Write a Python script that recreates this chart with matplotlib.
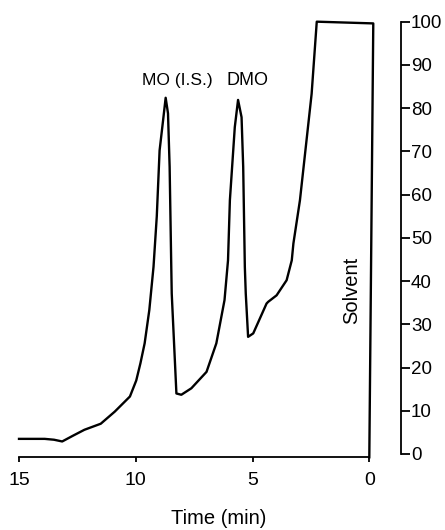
import numpy as np
import matplotlib
matplotlib.use('Agg')
import matplotlib.pyplot as plt

plt.rcParams['font.family'] = ['Liberation Sans', 'DejaVu Sans']

# chromatogram trace (time in min, response %)
time_min = [15.0, 13.9, 13.5, 13.15, 12.7, 12.2, 11.5, 10.9, 10.25, 9.98,
            9.8, 9.62, 9.42, 9.24, 9.1, 8.98, 8.83, 8.72, 8.62, 8.55,
            8.48, 8.46, 8.26, 8.05, 7.62, 6.97, 6.55, 6.2, 6.05, 5.97,
            5.76, 5.62, 5.47, 5.4, 5.33, 5.29, 5.19, 4.97, 4.4, 4.33,
            3.97, 3.54, 3.32, 3.25, 2.97, 2.47, 2.25, -0.17, 0.0]
response = [3.5, 3.5, 3.3, 2.9, 4.2, 5.6, 7.0, 9.8, 13.3, 17.0,
            21.0, 25.6, 33.3, 43.3, 55.0, 70.2, 77.2, 82.4, 78.8, 66.4,
            43.3, 37.1, 14.0, 13.7, 15.2, 19.0, 25.6, 35.6, 44.8, 58.7,
            75.6, 81.9, 77.9, 66.4, 43.3, 37.1, 27.1, 27.9, 34.8, 35.2,
            36.7, 40.2, 44.8, 48.7, 58.7, 83.3, 100.0, 99.6, -0.76]

x_ticks = [15, 10, 5, 0]
y_ticks = [0, 10, 20, 30, 40, 50, 60, 70, 80, 90, 100]

fig = plt.figure(figsize=(4.45, 5.30), dpi=100)
ax = fig.add_axes([0.0427, 0.1372, 0.7872, 0.8219])

ax.plot(time_min, response, color='black', lw=1.7, clip_on=False,
        solid_joinstyle='round')

ax.set_xlim(15, 0)
ax.set_ylim(-0.76, 100)

for s in ['top', 'left']:
    ax.spines[s].set_visible(False)
ax.spines['bottom'].set_linewidth(1.3)
ax.spines['right'].set_linewidth(1.3)
ax.spines['right'].set_position(('outward', 22.6))
ax.spines['right'].set_bounds(0, 100)

ax.set_xticks(x_ticks)
ax.set_xticklabels([str(v) for v in x_ticks])
ax.yaxis.tick_right()
ax.set_yticks(y_ticks)
ax.set_yticklabels([str(v) for v in y_ticks])

ax.tick_params(axis='x', direction='out', length=3.5, width=1.3, pad=7,
               labelsize=14)
ax.tick_params(axis='y', direction='out', length=6.5, width=1.3, pad=1,
               labelsize=13.5)

ax.text(8.24, 86.5, 'MO (I.S.)', ha='center', va='center', fontsize=12.5)
ax.text(5.22, 86.5, 'DMO', ha='center', va='center', fontsize=13)
ax.text(0.74, 37.9, 'Solvent', rotation=90, ha='center', va='center',
        fontsize=14.5)

fig.text(0.492, 0.0208, 'Time (min)', ha='center', va='center', fontsize=14.5)

fig.savefig('out.png', dpi=100)
